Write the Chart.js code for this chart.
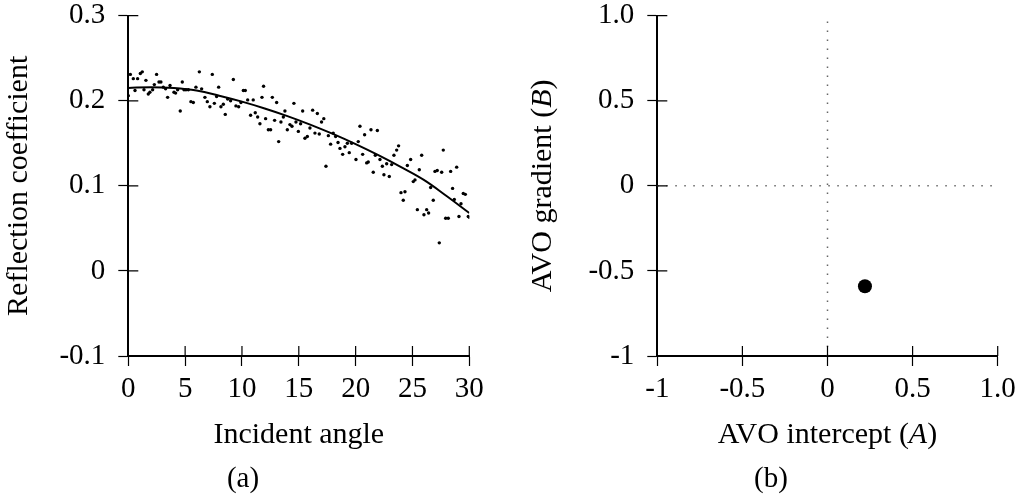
<!DOCTYPE html>
<html lang="en">
<head>
  <meta charset="UTF-8" />
  <title>AVO analysis</title>
  <script src="https://cdn.jsdelivr.net/npm/chart.js"></script>
  <style>
    body {
      margin: 0;
      background: #fff;
    }
    .wrap {
      position: relative;
      width: 1016px;
      height: 499px;
      overflow: hidden;
    }
    canvas {
      position: absolute;
      top: 0;
    }
    #reflection { left: 0; }
    #crossplot { left: 500px; }
    .caption {
      position: absolute;
      top: 463px;
      width: 60px;
      margin-left: -30px;
      text-align: center;
      font-family: 'Liberation Serif', serif;
      font-size: 29px;
      line-height: 29px;
      color: #000;
    }
  </style>
</head>
<body>
  <div class="wrap">
    <canvas id="reflection" width="500" height="499"></canvas>
    <canvas id="crossplot" width="516" height="499"></canvas>
    <div class="caption" style="left: 243px;">(a)</div>
    <div class="caption" style="left: 771px;">(b)</div>
  </div>

  <script>
    // measured reflection coefficients
    const angles = [
      0.18, 0.0, 0.44, 0.59, 0.82, 1.06, 1.23, 1.38, 1.55, 1.76,
      1.9, 2.14, 2.29, 2.49, 2.7, 2.87, 3.08, 3.28, 3.46, 3.67,
      4.02, 4.16, 4.34, 4.57, 4.75, 4.9, 5.07, 5.28, 5.51, 5.72,
      5.95, 6.25, 6.45, 6.74, 6.95, 7.18, 7.39, 7.57, 7.77, 7.95,
      8.15, 8.36, 8.53, 8.74, 9.0, 9.24, 9.47, 9.71, 9.91, 10.12,
      10.29, 10.5, 10.76, 10.99, 11.17, 11.38, 11.58, 11.76, 11.9, 12.08,
      12.32, 12.52, 12.67, 12.87, 13.05, 13.23, 13.43, 13.64, 13.78, 13.99,
      14.22, 14.4, 14.57, 14.75, 14.96, 15.16, 15.34, 15.54, 15.75, 15.98,
      16.22, 16.42, 16.63, 16.8, 17.0, 17.2, 17.39, 17.6, 17.8, 18.03,
      18.24, 18.45, 18.62, 18.86, 19.06, 19.27, 19.44, 19.65, 20.03, 20.23,
      20.38, 20.62, 20.79, 20.97, 21.11, 21.35, 21.55, 21.73, 21.91, 22.14,
      22.35, 22.49, 22.73, 22.96, 23.17, 23.37, 23.61, 23.78, 23.99, 24.19,
      24.34, 24.55, 24.84, 25.07, 25.22, 25.43, 25.6, 25.81, 26.01, 26.25,
      26.42, 26.6, 26.83, 26.98, 27.18, 27.36, 27.57, 27.71, 27.92, 28.15,
      28.36, 28.53, 28.68, 28.89, 29.09, 29.27, 29.47, 29.65, 29.91, 30.0
    ];
    const reflections = [
      0.231, 0.206, 0.226, 0.212, 0.226, 0.232, 0.234, 0.213, 0.224, 0.208,
      0.210, 0.213, 0.219, 0.231, 0.222, 0.222, 0.216, 0.214, 0.204, 0.218,
      0.210, 0.209, 0.213, 0.188, 0.222, 0.213, 0.213, 0.213, 0.199, 0.198,
      0.216, 0.234, 0.214, 0.204, 0.199, 0.193, 0.231, 0.197, 0.205, 0.216,
      0.193, 0.196, 0.184, 0.202, 0.200, 0.225, 0.194, 0.193, 0.198, 0.212,
      0.212, 0.201, 0.183, 0.201, 0.186, 0.181, 0.173, 0.204, 0.217, 0.179,
      0.166, 0.166, 0.204, 0.177, 0.198, 0.152, 0.175, 0.181, 0.188, 0.166,
      0.172, 0.170, 0.197, 0.175, 0.164, 0.173, 0.188, 0.156, 0.158, 0.168,
      0.189, 0.162, 0.185, 0.161, 0.175, 0.179, 0.123, 0.159, 0.149, 0.162,
      0.158, 0.151, 0.144, 0.137, 0.146, 0.150, 0.139, 0.150, 0.131, 0.152,
      0.170, 0.137, 0.160, 0.127, 0.128, 0.166, 0.116, 0.136, 0.165, 0.131,
      0.123, 0.113, 0.126, 0.111, 0.125, 0.136, 0.142, 0.147, 0.092, 0.083,
      0.093, 0.124, 0.131, 0.105, 0.107, 0.072, 0.119, 0.136, 0.066, 0.072,
      0.068, 0.098, 0.083, 0.117, 0.118, 0.033, 0.116, 0.142, 0.062, 0.062,
      0.117, 0.097, 0.084, 0.122, 0.064, 0.079, 0.091, 0.090, 0.064, 0.063
    ];

    // fitted trend through the measurements
    const fitAngles = [0, 2, 4, 6, 8, 10, 12, 14, 16, 18, 20, 22, 24, 26, 28, 30];
    const fitValues = [0.215, 0.216, 0.215, 0.212, 0.206, 0.199, 0.191, 0.182,
                       0.172, 0.161, 0.149, 0.136, 0.122, 0.107, 0.088, 0.068];

    // crossplot of the fit parameters
    const intercepts = [0.22];
    const gradients = [-0.59];
    const zeroLineA = [-1, 1];
    const zeroLineB = [-1, 1];

    const angleTicks = [0, 5, 10, 15, 20, 25, 30];
    const angleTickLabels = ['0', '5', '10', '15', '20', '25', '30'];
    const reflTicks = [-0.1, 0, 0.1, 0.2, 0.3];
    const reflTickLabels = ['-0.1', '0', '0.1', '0.2', '0.3'];
    const avoTicks = [-1, -0.5, 0, 0.5, 1];
    const avoTickLabels = ['-1', '-0.5', '0', '0.5', '1.0'];

    const FONT = 'Liberation Serif';

    // tick marks that also poke into the plot area
    const innerTicks = {
      id: 'innerTicks',
      afterDraw(chart) {
        const { ctx, chartArea } = chart;
        const { x, y } = chart.scales;
        ctx.save();
        ctx.strokeStyle = '#000';
        ctx.lineWidth = 1.2;
        ctx.beginPath();
        x.ticks.forEach(t => {
          const px = x.getPixelForValue(t.value);
          ctx.moveTo(px, chartArea.bottom);
          ctx.lineTo(px, chartArea.bottom - 10);
        });
        y.ticks.forEach(t => {
          const py = y.getPixelForValue(t.value);
          ctx.moveTo(chartArea.left, py);
          ctx.lineTo(chartArea.left + 10, py);
        });
        ctx.stroke();
        ctx.restore();
      }
    };

    function drawRuns(ctx, runs, cx, cy, rot) {
      const fontFor = r => (r.italic ? 'italic ' : '') + '30px "' + FONT + '"';
      let total = 0;
      runs.forEach(r => { ctx.font = fontFor(r); total += ctx.measureText(r.text).width; });
      ctx.save();
      ctx.translate(cx, cy);
      ctx.rotate(rot);
      let pos = -total / 2;
      runs.forEach(r => {
        ctx.font = fontFor(r);
        ctx.fillText(r.text, pos, 0);
        pos += ctx.measureText(r.text).width;
      });
      ctx.restore();
    }

    // axis titles, some with an italic symbol
    const axisTitles = {
      id: 'axisTitles',
      afterDraw(chart, args, opts) {
        const { ctx } = chart;
        const { x, y } = chart.scales;
        ctx.save();
        ctx.fillStyle = '#000';
        ctx.textBaseline = 'alphabetic';
        drawRuns(ctx, opts.x, (x.left + x.right) / 2, opts.xBaseline, 0);
        drawRuns(ctx, opts.y, opts.yBaseline, (y.top + y.bottom) / 2, -Math.PI / 2);
        ctx.restore();
      }
    };

    function axis(min, max, ticks, labels, isX, size, pad) {
      return {
        type: 'linear',
        min: min,
        max: max,
        afterBuildTicks: s => { s.ticks = ticks.map(v => ({ value: v })); },
        afterFit: s => {
          if (isX) {
            s.height = size;
            s.paddingLeft = 0;
            s.paddingRight = 0;
          } else {
            s.width = size;
            s.paddingTop = 0;
            s.paddingBottom = 0;
          }
        },
        ticks: {
          color: '#000',
          padding: pad,
          font: { family: FONT, size: 29, lineHeight: 1 },
          callback: (v, i) => labels[i]
        },
        grid: {
          display: true,
          drawOnChartArea: false,
          drawTicks: true,
          tickLength: 10,
          tickColor: '#000',
          tickWidth: 1.2
        },
        border: { display: true, color: '#000', width: 2 }
      };
    }

    const common = {
      responsive: false,
      animation: false,
      events: [],
      plugins: {
        legend: { display: false },
        tooltip: { enabled: false }
      }
    };

    new Chart(document.getElementById('reflection'), {
      type: 'scatter',
      data: {
        datasets: [{
          data: angles.map((a, i) => ({ x: a, y: reflections[i] })),
          pointRadius: 1.7,
          pointBackgroundColor: '#000',
          pointBorderWidth: 0
        }, {
          data: fitAngles.map((a, i) => ({ x: a, y: fitValues[i] })),
          showLine: true,
          borderColor: '#000',
          borderWidth: 2,
          tension: 0.4,
          pointRadius: 0
        }]
      },
      options: {
        ...common,
        layout: { padding: { top: 15.7, right: 30.7, bottom: 0, left: 0 } },
        scales: {
          x: axis(0, 30, angleTicks, angleTickLabels, true, 143, 9),
          y: axis(-0.1, 0.3, reflTicks, reflTickLabels, false, 128.3, 13)
        },
        plugins: {
          ...common.plugins,
          axisTitles: {
            x: [{ text: 'Incident angle' }],
            xBaseline: 443,
            y: [{ text: 'Reflection coefficient' }],
            yBaseline: 27
          }
        }
      },
      plugins: [innerTicks, axisTitles]
    });

    new Chart(document.getElementById('crossplot'), {
      type: 'scatter',
      data: {
        datasets: [{
          data: intercepts.map((a, i) => ({ x: a, y: gradients[i] })),
          pointRadius: 7,
          pointBackgroundColor: '#000',
          pointBorderWidth: 0
        }, {
          data: zeroLineA.map(a => ({ x: a, y: 0 })),
          showLine: true,
          borderColor: '#666',
          borderWidth: 1.5,
          borderDash: [1.5, 7.5],
          pointRadius: 0
        }, {
          data: zeroLineB.map(b => ({ x: 0, y: b })),
          showLine: true,
          borderColor: '#666',
          borderWidth: 1.5,
          borderDash: [1.5, 7.5],
          pointRadius: 0
        }]
      },
      options: {
        ...common,
        layout: { padding: { top: 15.7, right: 18.3, bottom: 0, left: 0 } },
        scales: {
          x: axis(-1, 1, avoTicks, avoTickLabels, true, 143, 9),
          y: axis(-1, 1, avoTicks, avoTickLabels, false, 157.3, 13)
        },
        plugins: {
          ...common.plugins,
          axisTitles: {
            x: [{ text: 'AVO intercept (' }, { text: 'A', italic: true }, { text: ')' }],
            xBaseline: 443,
            y: [{ text: 'AVO gradient (' }, { text: 'B', italic: true }, { text: ')' }],
            yBaseline: 51
          }
        }
      },
      plugins: [innerTicks, axisTitles]
    });
  </script>
</body>
</html>
